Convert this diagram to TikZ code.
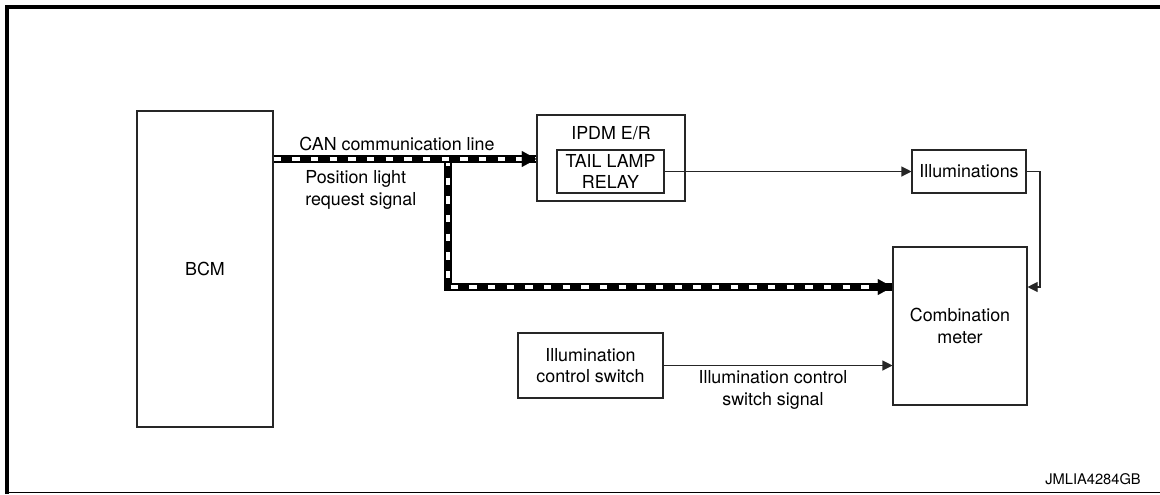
\documentclass[tikz,border=0pt]{standalone}
\usepackage{fontspec}
\setmainfont{TeX Gyre Heros}
\usetikzlibrary{arrows.meta}
\begin{document}
\begin{tikzpicture}[x=0.75pt,y=-0.75pt,
  box/.style={draw=black!85,line width=0.8pt,inner sep=0pt,align=center,font=\fontsize{13.4}{16}\selectfont},
  lbl/.style={font=\fontsize{13.4}{16}\selectfont,inner sep=0pt,align=center},
  thin/.style={draw=black!85,line width=0.8pt,-{Triangle[length=7.5pt,width=7.5pt]}},
  canblack/.style={line width=6pt,black},
  canwhite/.style={line width=2.8pt,white,dash pattern=on 5.5pt off 8.5pt},
  canarrow/.style={-{Triangle[length=11pt,width=12pt]}}
]
\useasboundingbox (0,0) rectangle (1160,494);
% frame
\draw[line width=2.4pt] (7,494) -- (7,7) -- (1160,7);
\draw[line width=0.8pt] (7,492.5) -- (1160,492.5);
% nodes
\node[box,minimum width=136*0.75pt,minimum height=316*0.75pt] (bcm) at (205,269) {BCM};
\node[box,minimum width=148*0.75pt,minimum height=86*0.75pt] (ipdm) at (611,158) {};
\node[lbl] (ipdmt) at (611,133) {IPDM E/R};
\node[box,minimum width=107*0.75pt,minimum height=43*0.75pt] (relay) at (610.5,171.5) {TAIL LAMP\\RELAY};
\node[box,minimum width=114*0.75pt,minimum height=43*0.75pt] (illum) at (969,171.5) {Illuminations};
\node[box,minimum width=134*0.75pt,minimum height=158*0.75pt] (meter) at (960,326) {Combination\\meter};
\node[box,minimum width=145*0.75pt,minimum height=65*0.75pt] (sw) at (590.5,365.5) {Illumination\\control switch};
% labels
\node[lbl] (canl) at (397,144) {CAN communication line};
\node[lbl,align=left,anchor=west] (posl) at (305,190) {Position light\\request signal};
\node[lbl] (swl) at (773,390) {Illumination control\\switch signal};
\node[font=\fontsize{11}{13}\selectfont,inner sep=0pt,anchor=east] (code) at (1141,479) {JMLIA4284GB};
% coordinates
\coordinate (j) at (448,159);
\coordinate (jb) at (448,287);
\coordinate (r1) at (1040,171.5);
\coordinate (r2) at (1040,287);
% CAN lines
\draw[canblack] (j) -- (jb) -- (jb -| meter.west);
\draw[canwhite] (j) -- (jb) -- (jb -| meter.west);
\draw[canblack] (bcm.east |- j) -- (j -| ipdm.west);
\draw[canwhite] (bcm.east |- j) -- (j -| ipdm.west);
\draw[canarrow,line width=0.1pt] ([xshift=-2pt]j -| ipdm.west) -- (j -| ipdm.west);
\draw[canarrow,line width=0.1pt] ([xshift=-2pt]jb -| meter.west) -- (jb -| meter.west);
% thin connectors
\draw[thin] (relay.east) -- (illum.west);
\draw[thin] (illum.east) -- (r1) -- (r2) -- (r2 -| meter.east);
\draw[thin] (sw.east) -- (sw.east -| meter.west);
\end{tikzpicture}
\end{document}
